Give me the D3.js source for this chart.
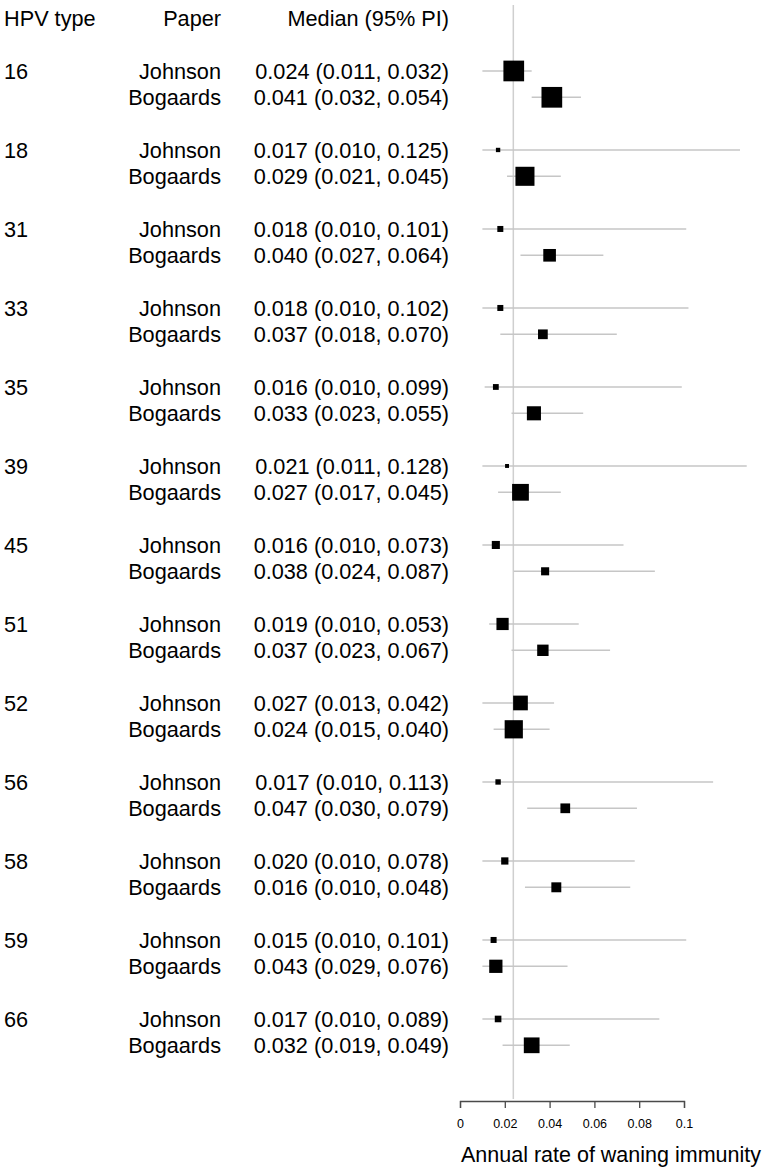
<!DOCTYPE html>
<html>
<head>
<meta charset="utf-8">
<script src="https://cdn.jsdelivr.net/npm/d3@7"></script>
<style>
  html, body { margin: 0; padding: 0; background: #fff; }
  svg { display: block; }
  text { font-family: "Liberation Sans", Arial, sans-serif; fill: #000; }
</style>
</head>
<body>
<svg id="chart" width="772" height="1170"></svg>
<script>
// ---------- data ----------
const hpvTypes = ["16","18","31","33","35","39","45","51","52","56","58","59","66"];
const papers = ["Johnson", "Bogaards"];
const headers = ["HPV type", "Paper", "Median (95% PI)"];

// values printed in the text column
const johnsonLabelMed = [0.024,0.017,0.018,0.018,0.016,0.021,0.016,0.019,0.027,0.017,0.020,0.015,0.017];
const johnsonLabelLo  = [0.011,0.010,0.010,0.010,0.010,0.011,0.010,0.010,0.013,0.010,0.010,0.010,0.010];
const johnsonLabelHi  = [0.032,0.125,0.101,0.102,0.099,0.128,0.073,0.053,0.042,0.113,0.078,0.101,0.089];
const bogaardsLabelMed = [0.041,0.029,0.040,0.037,0.033,0.027,0.038,0.037,0.024,0.047,0.016,0.043,0.032];
const bogaardsLabelLo  = [0.032,0.021,0.027,0.018,0.023,0.017,0.024,0.023,0.015,0.030,0.010,0.029,0.019];
const bogaardsLabelHi  = [0.054,0.045,0.064,0.070,0.055,0.045,0.087,0.067,0.040,0.079,0.048,0.076,0.049];

const johnsonMed = [0.024,0.017,0.018,0.018,0.016,0.021,0.016,0.019,0.027,0.017,0.020,0.015,0.017];
const johnsonLo  = [0.010,0.010,0.010,0.010,0.011,0.010,0.010,0.013,0.010,0.010,0.010,0.010,0.010];
const johnsonHi  = [0.032,0.125,0.101,0.102,0.099,0.128,0.073,0.053,0.042,0.113,0.078,0.101,0.089];
const johnsonWeight = [1.00,0.21,0.29,0.29,0.28,0.19,0.39,0.59,0.71,0.26,0.35,0.29,0.32];
const bogaardsMed = [0.041,0.029,0.040,0.037,0.033,0.027,0.038,0.037,0.024,0.047,0.043,0.016,0.032];
const bogaardsLo  = [0.032,0.021,0.027,0.018,0.023,0.017,0.024,0.023,0.015,0.030,0.029,0.010,0.019];
const bogaardsHi  = [0.054,0.045,0.064,0.070,0.055,0.045,0.087,0.067,0.040,0.079,0.076,0.048,0.049];
const bogaardsWeight = [1.00,0.92,0.61,0.47,0.68,0.81,0.39,0.55,0.88,0.47,0.48,0.64,0.76];

const referenceValue = 0.0238;
const xTicks = [0, 0.02, 0.04, 0.06, 0.08, 0.1];
const xTitle = "Annual rate of waning immunity";

// ---------- build rows ----------
const rows = [];
hpvTypes.forEach((t, i) => {
  rows.push({type: t, paper: papers[0], row: 3*i,
    med: johnsonMed[i], lo: johnsonLo[i], hi: johnsonHi[i], w: johnsonWeight[i],
    lm: johnsonLabelMed[i], ll: johnsonLabelLo[i], lh: johnsonLabelHi[i], first: true});
  rows.push({type: t, paper: papers[1], row: 3*i + 1,
    med: bogaardsMed[i], lo: bogaardsLo[i], hi: bogaardsHi[i], w: bogaardsWeight[i],
    lm: bogaardsLabelMed[i], ll: bogaardsLabelLo[i], lh: bogaardsLabelHi[i], first: false});
});

// ---------- scales ----------
const svg = d3.select("#chart");
const x = d3.scaleLinear().domain([0, 0.1]).range([460, 684]);
const y = d3.scaleLinear().domain([-2, 37]).range([18.3, 1045.3]);
const size = d3.scaleLinear().domain([0, 1]).range([0, 20.7]);
const f3 = d3.format(".3f");

const fontSize = 21.7;
const baseOff = 8;
const colType = 4, colPaper = 221, colVal = 449;

// ---------- headers ----------
const hdr = svg.append("g").attr("font-size", fontSize);
hdr.append("text").attr("x", colType).attr("y", y(-2) + baseOff).attr("text-anchor", "start").text(headers[0]);
hdr.append("text").attr("x", colPaper).attr("y", y(-2) + baseOff).attr("text-anchor", "end").text(headers[1]);
hdr.append("text").attr("x", colVal).attr("y", y(-2) + baseOff).attr("text-anchor", "end").text(headers[2]);

// ---------- reference line ----------
svg.append("line")
  .attr("x1", x(referenceValue)).attr("x2", x(referenceValue))
  .attr("y1", 5).attr("y2", 1099)
  .attr("stroke", "#cfcfcf").attr("stroke-width", 1.5);

// ---------- text columns ----------
const txt = svg.append("g").attr("font-size", fontSize);
txt.selectAll("text.type").data(rows.filter(d => d.first)).join("text")
  .attr("class", "type").attr("x", colType).attr("y", d => y(d.row) + baseOff)
  .attr("text-anchor", "start").text(d => d.type);
txt.selectAll("text.paper").data(rows).join("text")
  .attr("class", "paper").attr("x", colPaper).attr("y", d => y(d.row) + baseOff)
  .attr("text-anchor", "end").text(d => d.paper);
txt.selectAll("text.val").data(rows).join("text")
  .attr("class", "val").attr("x", colVal).attr("y", d => y(d.row) + baseOff)
  .attr("text-anchor", "end").text(d => `${f3(d.lm)} (${f3(d.ll)}, ${f3(d.lh)})`);

// ---------- intervals and squares ----------
const marks = svg.append("g");
marks.selectAll("line.ci").data(rows).join("line")
  .attr("class", "ci")
  .attr("x1", d => x(d.lo)).attr("x2", d => x(d.hi))
  .attr("y1", d => y(d.row)).attr("y2", d => y(d.row))
  .attr("stroke", "#c6c6c6").attr("stroke-width", 1.5);
marks.selectAll("rect.pt").data(rows).join("rect")
  .attr("class", "pt")
  .attr("x", d => x(d.med) - size(d.w)/2)
  .attr("y", d => y(d.row) - size(d.w)/2)
  .attr("width", d => size(d.w)).attr("height", d => size(d.w))
  .attr("fill", "#000");

// ---------- axis ----------
const axis = d3.axisBottom(x)
  .tickValues(xTicks)
  .tickFormat(d => d === 0 ? "0" : String(+d.toFixed(2)))
  .tickSize(7).tickPadding(11);
const ax = svg.append("g").attr("transform", "translate(0,1101)").call(axis);
ax.selectAll("path, line").attr("stroke", "#4a4a4a").attr("stroke-width", 1.3);
ax.selectAll("text").attr("font-size", 12.5).attr("fill", "#000")
  .attr("font-family", "'Liberation Sans', Arial, sans-serif");

svg.append("text")
  .attr("x", 461).attr("y", 1162)
  .attr("font-size", 21.5).attr("text-anchor", "start")
  .text(xTitle);
</script>
</body>
</html>
